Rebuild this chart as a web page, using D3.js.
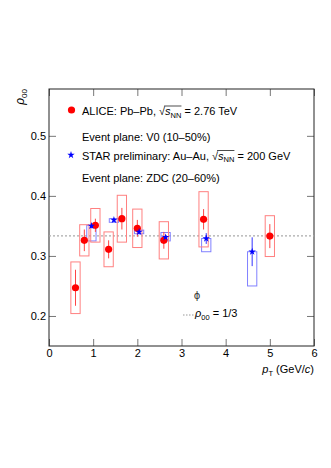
<!DOCTYPE html>
<html>
<head>
<meta charset="utf-8">
<script src="https://cdn.jsdelivr.net/npm/d3@7"></script>
<style>
	body { margin: 0; background: #fff; }
	text { font-family: "Liberation Sans", Arial, Helvetica, sans-serif; fill: #000; }
</style>
</head>
<body>
<svg id="svg"></svg>
<script>
// ALICE Pb-Pb, 2.76 TeV
const aliceX = [0.6, 0.8, 1.05, 1.35, 1.65, 2.0, 2.6, 3.5, 5.0]
const aliceY = [0.247, 0.326, 0.351, 0.311, 0.362, 0.346, 0.326, 0.361, 0.333]
const aliceStat = [0.030, 0.018, 0.011, 0.015, 0.018, 0.014, 0.014, 0.017, 0.020]
const aliceSys = [0.043, 0.026, 0.028, 0.029, 0.039, 0.032, 0.031, 0.046, 0.034]
// STAR preliminary Au-Au, 200 GeV (sys boxes are one-sided)
const starX = [0.96, 1.47, 2.04, 2.64, 3.56, 4.6]
const starY = [0.350, 0.360, 0.340, 0.331, 0.329, 0.307]
const starStat = [0.004, 0.003, 0.004, 0.004, 0.009, 0.024]
const starSysLo = [0.325, 0.356, 0.337, 0.325, 0.307, 0.250]
const starSysHi = [0.351, 0.362, 0.343, 0.339, 0.329, 0.307]
const xTicks = [0, 1, 2, 3, 4, 5, 6]
const yTicks = [0.2, 0.3, 0.4, 0.5]
const refLine = 1 / 3

const margin = {top: 89, right: 17, bottom: 122, left: 49},
	width = 331 - margin.left - margin.right,
	height = 468 - margin.top - margin.bottom;

const x = d3.scaleLinear().domain([0, 6]).range([0, width])
const y = d3.scaleLinear().domain([0.15, 0.578]).range([height, 0])
const halfW = 0.105 // half width of sys boxes in GeV/c

const svg = d3.select('#svg')
	.attr('width', 331)
	.attr('height', 468)
	.append('g')
	.attr('transform', `translate(${margin.left},${margin.top})`)

// axes, ticks inward
function styleAxis(g) {
	g.select('.domain').remove()
	g.selectAll('.tick line').attr('stroke', '#777')
	g.selectAll('.tick text').attr('font-size', 11).attr('fill', '#000')
		.attr('font-family', '"Liberation Sans", Arial, sans-serif')
}
svg.append('g').attr('transform', `translate(0,${height})`)
	.call(d3.axisBottom(x).tickValues(xTicks).tickSize(-7).tickPadding(3).tickFormat(d3.format('d')))
	.call(styleAxis)
svg.append('g')
	.call(d3.axisTop(x).tickValues(xTicks).tickSize(-7).tickFormat(''))
	.call(styleAxis)
svg.append('g')
	.call(d3.axisLeft(y).tickValues(yTicks).tickSize(-7).tickPadding(3).tickFormat(d3.format('.1f')))
	.call(styleAxis)
svg.append('g').attr('transform', `translate(${width},0)`)
	.call(d3.axisRight(y).tickValues(yTicks).tickSize(-7).tickFormat(''))
	.call(styleAxis)

svg.append('rect')
	.attr('width', width).attr('height', height)
	.attr('fill', 'none').attr('stroke', '#222').attr('stroke-width', 1)

// rho = 1/3 line
svg.append('line')
	.attr('x1', 0).attr('x2', width)
	.attr('y1', y(refLine)).attr('y2', y(refLine))
	.attr('stroke', '#aaa').attr('stroke-width', 1.2).attr('stroke-dasharray', '2,2')

// STAR sys boxes + stat bars
svg.selectAll('rect.star-sys')
	.data(starX).enter()
	.append('rect').attr('class', 'star-sys')
	.attr('x', d => x(d - halfW))
	.attr('width', d => x(d + halfW) - x(d - halfW))
	.attr('y', (d, i) => y(starSysHi[i]))
	.attr('height', (d, i) => y(starSysLo[i]) - y(starSysHi[i]))
	.attr('fill', 'none').attr('stroke', '#8080ff').attr('stroke-width', 1)

// ALICE sys boxes
svg.selectAll('rect.alice-sys')
	.data(aliceX).enter()
	.append('rect').attr('class', 'alice-sys')
	.attr('x', d => x(d - halfW))
	.attr('width', d => x(d + halfW) - x(d - halfW))
	.attr('y', (d, i) => y(aliceY[i] + aliceSys[i]))
	.attr('height', (d, i) => y(aliceY[i] - aliceSys[i]) - y(aliceY[i] + aliceSys[i]))
	.attr('fill', 'none').attr('stroke', '#ff8080').attr('stroke-width', 1)

svg.selectAll('line.alice-stat')
	.data(aliceX).enter()
	.append('line').attr('class', 'alice-stat')
	.attr('x1', d => x(d)).attr('x2', d => x(d))
	.attr('y1', (d, i) => y(aliceY[i] + aliceStat[i]))
	.attr('y2', (d, i) => y(aliceY[i] - aliceStat[i]))
	.attr('stroke', '#f44').attr('stroke-width', 1)

svg.selectAll('line.star-stat')
	.data(starX).enter()
	.append('line').attr('class', 'star-stat')
	.attr('x1', d => x(d)).attr('x2', d => x(d))
	.attr('y1', (d, i) => y(starY[i] + starStat[i]))
	.attr('y2', (d, i) => y(starY[i] - starStat[i]))
	.attr('stroke', '#33f').attr('stroke-width', 1)

const star = d3.symbol().type(d3.symbolStar).size(17)

svg.selectAll('circle.alice')
	.data(aliceX).enter()
	.append('circle').attr('class', 'alice')
	.attr('cx', d => x(d))
	.attr('cy', (d, i) => y(aliceY[i]))
	.attr('r', 3.6)
	.attr('fill', '#ff0000')

svg.selectAll('path.star')
	.data(starX).enter()
	.append('path').attr('class', 'star')
	.attr('d', star)
	.attr('transform', (d, i) => `translate(${x(d)},${y(starY[i])})`)
	.attr('fill', '#0000ff')

// legend
const lg = svg.append('g')
lg.append('circle').attr('cx', 22.5).attr('cy', 21).attr('r', 3.6).attr('fill', '#ff0000')
lg.append('path').attr('d', star).attr('transform', 'translate(22,66)').attr('fill', '#0000ff')

function sqrtLine(yy, before, after) {
	const t = lg.append('text').attr('x', 33).attr('y', yy).attr('font-size', 11)
	t.append('tspan').text(before + '\u221A')
	t.append('tspan').attr('font-style', 'italic').text('s')
	t.append('tspan').attr('font-size', 7.5).attr('dy', 2.5).text('NN')
	t.append('tspan').attr('dy', -2.5).text(' = ' + after)
	// overline over s_NN
	const node = t.node()
	const i0 = before.length + 1
	const x0 = node.getStartPositionOfChar(i0).x
	const x1 = node.getEndPositionOfChar(i0 + 2).x
	lg.append('line').attr('x1', x0 - 1).attr('x2', x1)
		.attr('y1', yy - 9).attr('y2', yy - 9)
		.attr('stroke', '#000').attr('stroke-width', 0.7)
}
sqrtLine(26, 'ALICE: Pb\u2013Pb, ', '2.76 TeV')
lg.append('text').attr('x', 33).attr('y', 52).attr('font-size', 11).text('Event plane: V0 (10\u201350%)')
sqrtLine(70.5, 'STAR preliminary: Au\u2013Au, ', '200 GeV')
lg.append('text').attr('x', 33).attr('y', 93).attr('font-size', 11).text('Event plane: ZDC (20\u201360%)')

// phi label and reference line label
svg.append('text').attr('x', 148).attr('y', 209.5).attr('font-size', 10)
	.attr('text-anchor', 'middle').style('font-family', '"DejaVu Sans", sans-serif').style('fill', '#333')
	.text('\u03D5')
svg.append('line').attr('x1', 134).attr('x2', 145).attr('y1', 226).attr('y2', 226)
	.attr('stroke', '#999').attr('stroke-width', 1).attr('stroke-dasharray', '1.5,1.5')
const rl = svg.append('text').attr('x', 146).attr('y', 228).attr('font-size', 11)
rl.append('tspan').attr('font-style', 'italic').text('\u03C1')
rl.append('tspan').attr('font-size', 7.5).attr('dy', 3).text('00')
rl.append('tspan').attr('dy', -3).text(' = 1/3')

// axis titles
const xt = svg.append('text').attr('x', width).attr('y', height + 27).attr('font-size', 11).attr('text-anchor', 'end')
xt.append('tspan').attr('font-style', 'italic').text('p')
xt.append('tspan').attr('font-size', 7.5).attr('dy', 2.5).text('T')
xt.append('tspan').attr('dy', -2.5).text(' (GeV/')
xt.append('tspan').attr('font-style', 'italic').text('c')
xt.append('tspan').text(')')

const yt = svg.append('text').attr('transform', 'translate(-25,0) rotate(-90)')
	.attr('font-size', 12).attr('text-anchor', 'end')
yt.append('tspan').attr('font-style', 'italic').text('\u03C1')
yt.append('tspan').attr('font-size', 8).attr('dy', 3).text('00')
</script>
</body>
</html>
